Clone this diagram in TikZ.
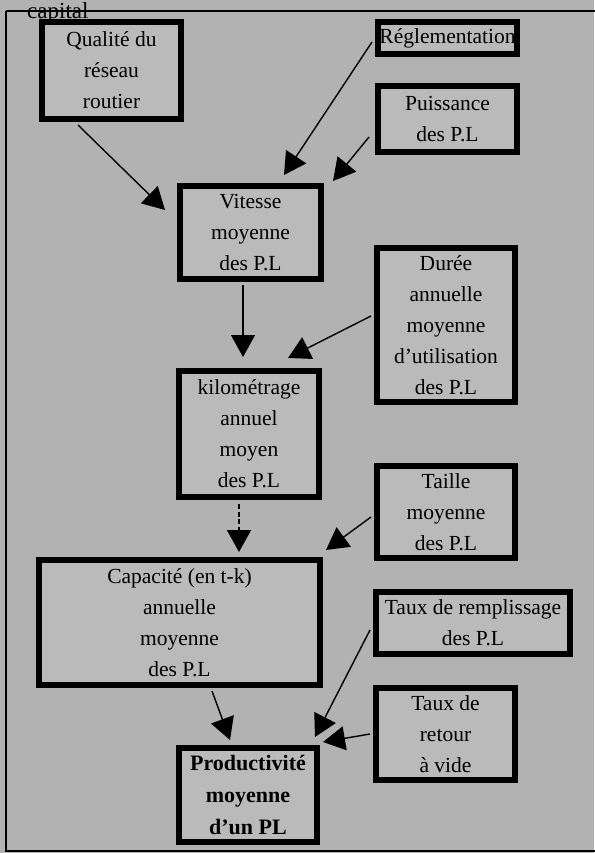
\documentclass[tikz,border=0pt]{standalone}
\usepackage{fontspec}
\setmainfont{Liberation Serif}
\usetikzlibrary{arrows.meta}
\begin{document}
\begin{tikzpicture}[x=1pt,y=-1pt,
  boxstyle/.style={draw=black, line width=6pt, fill=black!27, inner sep=0pt,
    align=center, font=\fontsize{21.5}{31}\selectfont},
  arr/.style={line width=1.4pt, -{Triangle[length=22pt,width=24pt]}}]
\useasboundingbox (0,0) rectangle (594,853);
\fill[black!30] (0,0) rectangle (594,853);
\draw[line width=2.2pt] (6,11) -- (600,11);
\draw[line width=2.2pt] (6,11) -- (6,851) -- (600,851);
\node[anchor=base west, font=\fontsize{23}{28}\selectfont, inner sep=0pt] (cap) at (27,19) {capital};

\node[boxstyle, minimum width=139pt, minimum height=97pt] (q) at (111.5,70.5) {Qualité du\\réseau\\routier};
\node[boxstyle, minimum width=139pt, minimum height=32pt] (r) at (447.5,38) {Réglementation};
\node[boxstyle, minimum width=139pt, minimum height=66pt] (p) at (447.5,119) {Puissance\\des P.L};
\node[boxstyle, minimum width=141pt, minimum height=93pt] (v) at (250.5,232.5) {Vitesse\\moyenne\\des P.L};
\node[boxstyle, minimum width=138pt, minimum height=154pt] (d) at (446,325) {Durée\\annuelle\\moyenne\\d'utilisation\\des P.L};
\node[boxstyle, minimum width=140pt, minimum height=126pt] (k) at (249,434) {kilométrage\\annuel\\moyen\\des P.L};
\node[boxstyle, minimum width=138pt, minimum height=92pt] (t) at (446,512) {Taille\\moyenne\\des P.L};
\node[boxstyle, minimum width=281pt, minimum height=125pt] (c) at (179.5,622.5) {Capacité (en t-k)\\annuelle\\moyenne\\des P.L};
\node[boxstyle, minimum width=194pt, minimum height=62pt] (tr) at (473,623) {Taux de remplissage\\des P.L};
\node[boxstyle, minimum width=139pt, minimum height=92pt] (rv) at (445.5,734) {Taux de\\retour\\à vide};
\node[boxstyle, minimum width=138pt, minimum height=94pt, font=\fontsize{22}{32}\selectfont\bfseries] (pr) at (248,795) {Productivité\\moyenne\\d'un PL};

\draw[arr] ([xshift=-33.5pt,yshift=-3pt]q.south) -- ([xshift=-12pt,yshift=22.5pt]v.west);
\draw[arr] ([xshift=-3pt,yshift=-4pt]r.west) -- ([xshift=33.5pt,yshift=8pt]v.north);
\draw[arr] ([xshift=-6pt,yshift=-18pt]p.west) -- ([xshift=9pt,yshift=2pt]v.north east);
\draw[arr] ([xshift=-7.5pt,yshift=-3pt]v.south) -- ([xshift=-6pt,yshift=11pt]k.north);
\draw[arr] ([xshift=-3pt,yshift=9pt]d.west) -- ([xshift=39pt,yshift=10pt]k.north);
\draw[arr, dash pattern=on 5pt off 2.5pt] ([xshift=-10pt,yshift=-4pt]k.south) -- ([xshift=59.5pt,yshift=5pt]c.north);
\draw[arr] ([xshift=-3pt,yshift=-5pt]t.west) -- ([xshift=3pt,yshift=7pt]c.north east);
\draw[arr] ([xshift=32.5pt,yshift=-3pt]c.south) -- ([xshift=-18pt,yshift=5pt]pr.north);
\draw[arr] ([xshift=-3pt,yshift=-7pt]tr.west) -- ([xshift=-5pt,yshift=8pt]pr.north east);
\draw[arr] ([xshift=-3pt]rv.west) -- ([xshift=3pt,yshift=3pt]pr.north east);
\end{tikzpicture}
\end{document}
